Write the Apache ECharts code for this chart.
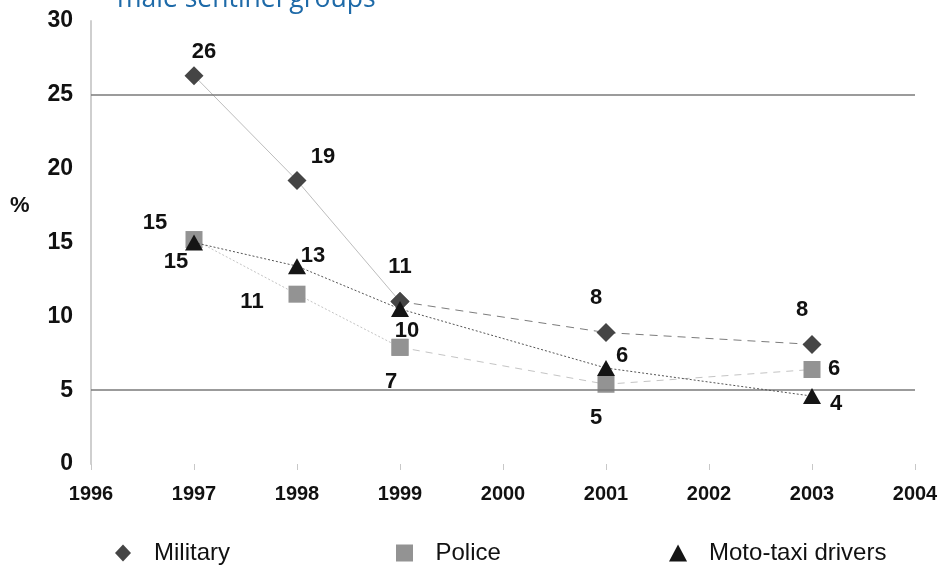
<!DOCTYPE html>
<html>
<head>
<meta charset="utf-8">
<script src="https://cdn.jsdelivr.net/npm/echarts@6/dist/echarts.min.js"></script>
<style>
  html, body { margin: 0; padding: 0; background: #ffffff; }
  #chart { width: 941px; height: 567px; }
</style>
</head>
<body>
<div id="chart"></div>
<script>
// Survey years and prevalence (%) per sentinel group
const years = [1997, 1998, 1999, 2001, 2003];
const military = [26.3, 19.2, 11.0, 8.9, 8.1];
const police = [15.2, 11.5, 7.9, 5.4, 6.4];
const motoTaxi = [15.0, 13.4, 10.5, 6.5, 4.6];
const yTicks = [0, 5, 10, 15, 20, 25, 30];
const referenceLines = [5, 25];

// label placement around each marker, [dx, dy] in px
const militaryLabelPos = [[10, -24], [26, -24], [0, -35], [-10, -35], [-10, -34]];
const policeLabelPos = [[-39, -17], [-45, 8], [-9, 35], [-10, 34], [22, -1]];
const motoLabelPos = [[-18, 19], [16, -10], [7, 22], [16, -12], [24, 8]];

const labelFont = { fontFamily: 'Liberation Sans, Arial, sans-serif', fontWeight: 'bold', fontSize: 22, color: '#111' };

function points(values, offsets, from, to) {
  const out = [];
  for (let i = from; i <= to; i++) {
    out.push({
      value: [years[i], values[i]],
      label: { show: true, position: 'inside', offset: offsets[i], formatter: p => String(Math.floor(p.value[1])), ...labelFont }
    });
  }
  return out;
}

const diamondPath = 'path://M8,0L16,8.5L8,17L0,8.5Z';
const squarePath = 'path://M0,0L16,0L16,16L0,16Z';
const trianglePath = 'path://M8.5,0L17,16L0,16Z';

const series = [
  {
    name: 'Military', type: 'line', z: 3,
    data: points(military, militaryLabelPos, 0, 2),
    symbol: 'diamond', symbolSize: 19,
    itemStyle: { color: '#454545' },
    lineStyle: { color: '#bdbdbd', width: 1, type: 'solid' },
    markLine: {
      silent: true, symbol: 'none', animation: false,
      label: { show: false },
      lineStyle: { color: '#7a7a7a', width: 1.5, type: 'solid' },
      data: referenceLines.map(v => ({ yAxis: v }))
    }
  },
  {
    name: 'Military', type: 'line', z: 3,
    data: points(military, militaryLabelPos, 2, 4).map((d, i) => i === 0 ? { value: d.value } : d),
    symbol: 'diamond', symbolSize: 19,
    itemStyle: { color: '#454545' },
    lineStyle: { color: '#7c7c7c', width: 1, type: [8, 6] }
  },
  {
    name: 'Police', type: 'line', z: 4,
    data: points(police, policeLabelPos, 0, 2),
    symbol: 'rect', symbolSize: 17,
    itemStyle: { color: '#939393' },
    lineStyle: { color: '#c4c4c4', width: 1, type: [2, 2] }
  },
  {
    name: 'Police', type: 'line', z: 4,
    data: points(police, policeLabelPos, 2, 4).map((d, i) => i === 0 ? { value: d.value } : d),
    symbol: 'rect', symbolSize: 17,
    itemStyle: { color: '#939393' },
    lineStyle: { color: '#c4c4c4', width: 1, type: [7, 6] }
  },
  {
    name: 'Moto-taxi drivers', type: 'line', z: 5,
    data: points(motoTaxi, motoLabelPos, 0, 4),
    symbol: 'triangle', symbolSize: [18, 16],
    itemStyle: { color: '#151515' },
    lineStyle: { color: '#555555', width: 1, type: [2, 2] }
  }
];

function legendAt(left, name, icon, color) {
  return {
    left: left, top: 536, orient: 'horizontal',
    itemWidth: 52, itemHeight: 17, symbolKeepAspect: true,
    selectedMode: true,
    textStyle: { fontFamily: 'Liberation Sans, Arial, sans-serif', fontSize: 24, color: '#111' },
    data: [{ name: name, icon: icon, itemStyle: { color: color } }]
  };
}

const chart = echarts.init(document.getElementById('chart'), null, { renderer: 'canvas' });
chart.setOption({
  animation: false,
  backgroundColor: '#ffffff',
  grid: { left: 91, right: 26, top: 21, bottom: 103, outerBoundsMode: 'none', containLabel: false },
  xAxis: {
    type: 'value', min: 1996, max: 2004, interval: 1,
    axisLine: { show: false },
    axisTick: { show: true, length: 6, lineStyle: { color: '#c8c8c8', width: 1 } },
    splitLine: { show: false },
    axisLabel: {
      margin: 20, formatter: v => String(v),
      fontFamily: 'Liberation Sans, Arial, sans-serif', fontWeight: 'bold', fontSize: 20, color: '#111'
    }
  },
  yAxis: {
    type: 'value', min: yTicks[0], max: yTicks[yTicks.length - 1], interval: 5,
    axisLine: { show: true, lineStyle: { color: '#cfcfcf', width: 2 } },
    axisTick: { show: false },
    splitLine: { show: false },
    axisLabel: {
      margin: 18,
      fontFamily: 'Liberation Sans, Arial, sans-serif', fontWeight: 'bold', fontSize: 23, color: '#111'
    }
  },
  legend: [
    legendAt(110, 'Military', diamondPath, '#454545'),
    legendAt(391, 'Police', squarePath, '#939393'),
    legendAt(664, 'Moto-taxi drivers', trianglePath, '#151515')
  ],
  graphic: [
    {
      type: 'text', left: 117, top: -14,
      style: { text: 'male sentinel groups', fill: '#1e6aa8', font: '26.5px "Open Sans", sans-serif' }
    },
    {
      type: 'text', left: 10, top: 195,
      style: { text: '%', fill: '#111', font: 'bold 22px "Liberation Sans", Arial, sans-serif' }
    }
  ],
  series: series
});
</script>
</body>
</html>
